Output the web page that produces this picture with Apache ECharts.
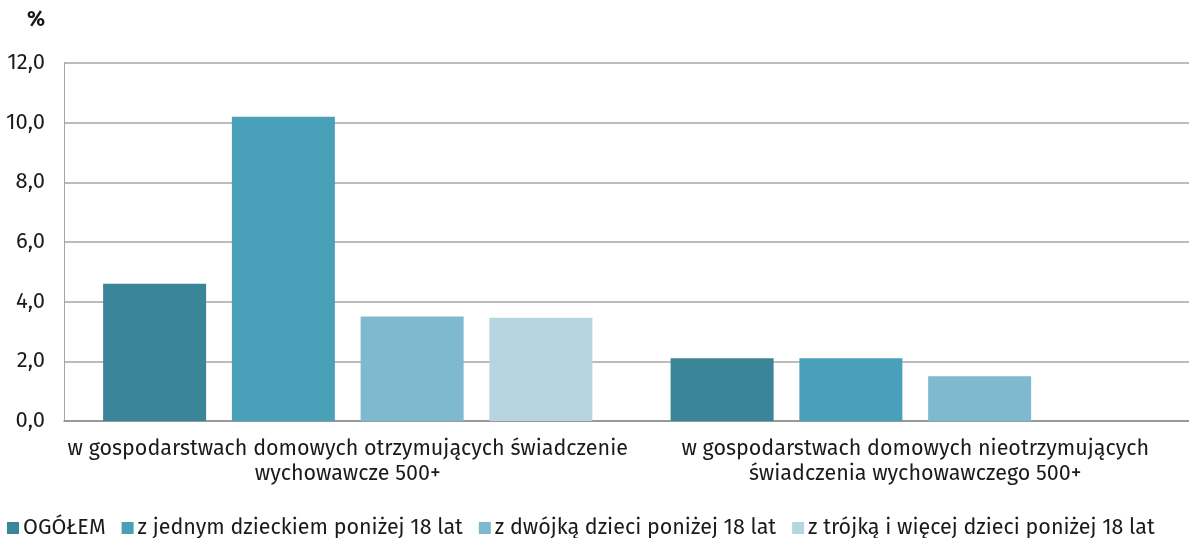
<!DOCTYPE html>
<html>
<head>
<meta charset="utf-8">
<script src="https://cdn.jsdelivr.net/npm/echarts@6/dist/echarts.min.js"></script>
<style>
html,body{margin:0;padding:0;background:#fff;overflow:hidden;}
#c{width:1199px;height:538px;}
</style>
</head>
<body>
<div id="c"></div>
<script>
const categories = [
  "w gospodarstwach domowych otrzymujących świadczenie\nwychowawcze 500+",
  "w gospodarstwach domowych nieotrzymujących\nświadczenia wychowawczego 500+"
];
const seriesNames = [
  "OGÓŁEM",
  "z jednym dzieckiem poniżej 18 lat",
  "z dwójką dzieci poniżej 18 lat",
  "z trójką i więcej dzieci poniżej 18 lat"
];
const ogolem = [4.6, 2.1];
const jedno = [10.2, 2.1];
const dwoje = [3.5, 1.5];
const troje = [3.46, null];
const yTicks = [0, 2, 4, 6, 8, 10, 12];
const colors = ["#3a8597", "#48a1b9", "#7eb9cf", "#b7d5e0"];

const FONT = "'Fira Sans', 'Noto Sans', sans-serif";
const values = [ogolem, jedno, dwoje, troje];

const chart = echarts.init(document.getElementById('c'), null, {renderer: 'canvas'});
chart.setOption({
  animation: false,
  backgroundColor: '#ffffff',
  color: colors,
  textStyle: {fontFamily: FONT},
  graphic: [{
    type: 'text', left: 27, top: 10,
    style: {text: '%', fontFamily: FONT, fontSize: 21, fontWeight: 'bold', fill: '#1a1a1a'}
  }],
  legend: {
    left: 7, top: 517, padding: 0,
    itemWidth: 12, itemHeight: 12, itemGap: 16,
    icon: 'rect',
    textStyle: {fontFamily: FONT, fontSize: 21.5, color: '#1a1a1a', padding: [0, 0, 0, -1]},
    data: seriesNames
  },
  grid: {left: 64, right: 0, top: 63, bottom: 117, containLabel: false},
  xAxis: {
    type: 'category',
    data: categories,
    axisLine: {show: true, lineStyle: {color: '#8c8c8c', width: 1.5}},
    axisTick: {show: false},
    axisLabel: {interval: 0, fontFamily: FONT, fontSize: 21.5, color: '#1a1a1a', lineHeight: 25, margin: 15}
  },
  yAxis: {
    type: 'value',
    min: 0, max: 12, interval: 2,
    axisLine: {show: true, lineStyle: {color: '#a6a6a6', width: 1}},
    axisTick: {show: false},
    splitLine: {lineStyle: {color: '#a6a6a6', width: 1.5}},
    axisLabel: {
      fontFamily: FONT, fontSize: 22, color: '#1a1a1a', margin: 19,
      formatter: v => yTicks.includes(v) ? v.toFixed(1).replace('.', ',') : ''
    }
  },
  series: seriesNames.map((n, i) => ({
    name: n,
    type: 'bar',
    data: values[i],
    barWidth: 103,
    barGap: '25%',
    itemStyle: {color: colors[i]}
  }))
});
</script>
</body>
</html>
